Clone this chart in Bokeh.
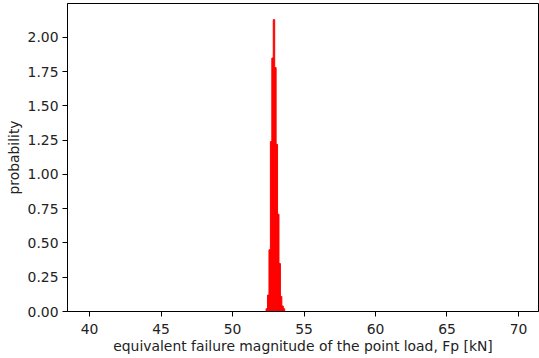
from bokeh.plotting import figure
from bokeh.models import FixedTicker, NumeralTickFormatter, Range1d
from bokeh.embed import file_html
from bokeh.resources import INLINE

# histogram data (density), bin width 0.1
bin_left = [52.35, 52.45, 52.55, 52.65, 52.75, 52.85, 52.95, 53.05, 53.15, 53.25, 53.35, 53.45, 53.55]
bin_right = [52.45, 52.55, 52.65, 52.75, 52.85, 52.95, 53.05, 53.15, 53.25, 53.35, 53.45, 53.55, 53.65]
density = [0.02, 0.12, 0.45, 1.24, 1.85, 2.13, 1.78, 1.22, 0.71, 0.35, 0.11, 0.04, 0.02]

x_ticks = [40, 45, 50, 55, 60, 65, 70]
y_ticks = [0.0, 0.25, 0.5, 0.75, 1.0, 1.25, 1.5, 1.75, 2.0]

FONT = "DejaVu Sans"
FS = "13.9px"

p = figure(width=539, height=358, output_backend="svg", toolbar_location=None,
           x_range=Range1d(38.46, 71.40), y_range=Range1d(0, 2.248),
           min_border_left=67, min_border_right=1, min_border_top=3, min_border_bottom=47)

p.quad(left=bin_left, right=bin_right, top=density, bottom=0,
       fill_color="#ff0000", line_color="#ff0000", line_width=1)

p.xgrid.visible = False
p.ygrid.visible = False
p.outline_line_color = "black"
p.outline_line_width = 1
p.background_fill_color = "white"
p.border_fill_color = "white"

p.xaxis.ticker = FixedTicker(ticks=x_ticks)
p.yaxis.ticker = FixedTicker(ticks=y_ticks)
p.yaxis.formatter = NumeralTickFormatter(format="0.00")

for ax in (p.xaxis, p.yaxis):
    ax.axis_line_color = "black"
    ax.major_tick_line_color = "black"
    ax.major_tick_out = 5
    ax.major_tick_in = 0
    ax.minor_tick_line_color = None
    ax.major_label_text_font = FONT
    ax.major_label_text_font_size = FS
    ax.major_label_text_color = "#222222"
    ax.axis_label_text_font = FONT
    ax.axis_label_text_font_size = FS
    ax.axis_label_text_font_style = "normal"
    ax.axis_label_text_color = "#222222"

p.xaxis.axis_label = "equivalent failure magnitude of the point load, Fp [kN]"
p.yaxis.axis_label = "probability"
p.xaxis.major_label_standoff = 7
p.xaxis.axis_label_standoff = 1
p.yaxis.major_label_standoff = 4
p.yaxis.axis_label_standoff = 3

open("out.html", "w").write(file_html(p, INLINE))
